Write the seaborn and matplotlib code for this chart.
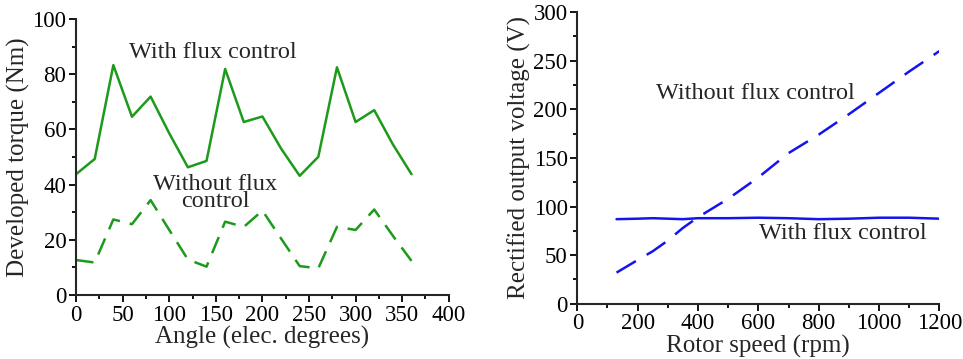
import matplotlib
matplotlib.use("Agg")
import matplotlib.pyplot as plt
from matplotlib.ticker import MultipleLocator
import pandas as pd
import seaborn as sns

# Torque vs electrical angle
angle = [0, 20, 40, 60, 80, 100, 120, 140, 160, 180, 200, 220, 240, 260, 280, 300, 320, 340, 360]
torque_with = [43.8, 49.3, 83.3, 64.6, 71.9, 58.6, 46.3, 48.6, 81.9, 62.7, 64.7, 53.1, 43.2, 50.1, 82.5, 62.7, 67.0, 54.6, 43.8]
torque_without = [12.7, 11.8, 27.4, 25.7, 34.4, 23.6, 12.9, 10.3, 26.6, 24.7, 30.6, 20.5, 10.5, 9.7, 24.7, 23.6, 31.0, 21.5, 12.4]

# Rectified voltage vs rotor speed
speed = [130, 200, 250, 300, 350, 400, 500, 600, 700, 800, 900, 1000, 1100, 1200]
volt_without = [32, 45, 54, 65, 78, 89, 108, 130, 155, 174, 195, 217, 239, 260]
volt_with = [87, 87.5, 88, 87.5, 87, 88, 88, 88.5, 88, 87, 87.5, 88.5, 88.5, 87.5]

green = "#1c9a1c"
blue = "#1414f0"

sns.set_style("ticks")
plt.rcParams["font.family"] = ["Liberation Serif", "DejaVu Serif"]
plt.rcParams["xtick.direction"] = "out"
plt.rcParams["ytick.direction"] = "out"

fig = plt.figure(figsize=(9.63, 3.59), dpi=100)
ax1 = fig.add_axes([0.079, 0.178, 0.387, 0.769])
ax2 = fig.add_axes([0.5995, 0.154, 0.376, 0.812])

# left: torque
tq = pd.DataFrame(dict(angle=angle, with_fc=torque_with, without_fc=torque_without))
sns.lineplot(data=tq, x="angle", y="with_fc", ax=ax1, color=green, lw=1.8)
sns.lineplot(data=tq, x="angle", y="without_fc", ax=ax1, color=green, lw=1.8,
             linestyle=(0, (7, 4)))
ax1.text(147, 88, "With flux control", ha="center", va="center", fontsize=17.5)
ax1.text(149, 37, "Without flux\ncontrol", ha="center", va="center", fontsize=17.5,
         linespacing=0.75)
ax1.set(xlim=(0, 400), ylim=(0, 100), xlabel="Angle (elec. degrees)",
        ylabel="Developed torque (Nm)")
ax1.xaxis.set_major_locator(MultipleLocator(50))
ax1.xaxis.set_minor_locator(MultipleLocator(25))
ax1.yaxis.set_major_locator(MultipleLocator(20))
ax1.yaxis.set_minor_locator(MultipleLocator(10))

# right: rectified voltage
vt = pd.DataFrame(dict(speed=speed, with_fc=volt_with, without_fc=volt_without))
sns.lineplot(data=vt, x="speed", y="with_fc", ax=ax2, color=blue, lw=1.8)
sns.lineplot(data=vt, x="speed", y="without_fc", ax=ax2, color=blue, lw=1.8,
             linestyle=(0, (9, 5)))
ax2.text(590, 216, "Without flux control", ha="center", va="center", fontsize=17.5)
ax2.text(879, 72, "With flux control", ha="center", va="center", fontsize=17.5)
ax2.set(xlim=(0, 1200), ylim=(0, 300), xlabel="Rotor speed (rpm)",
        ylabel="Rectified output voltage (V)")
ax2.xaxis.set_major_locator(MultipleLocator(200))
ax2.xaxis.set_minor_locator(MultipleLocator(100))
ax2.yaxis.set_major_locator(MultipleLocator(50))
ax2.yaxis.set_minor_locator(MultipleLocator(25))

for ax in (ax1, ax2):
    sns.despine(ax=ax)
    ax.spines["left"].set_linewidth(1.5)
    ax.spines["bottom"].set_linewidth(1.5)
    ax.tick_params(which="major", length=5, width=1.3, labelsize=16.5, pad=2,
                   colors="black")
    ax.tick_params(which="minor", length=3, width=1.3, colors="black")
    ax.xaxis.label.set_size(18)
    ax.yaxis.label.set_size(18)
    ax.xaxis.labelpad = 0
    ax.yaxis.labelpad = 2

fig.savefig("out.png", dpi=100)
